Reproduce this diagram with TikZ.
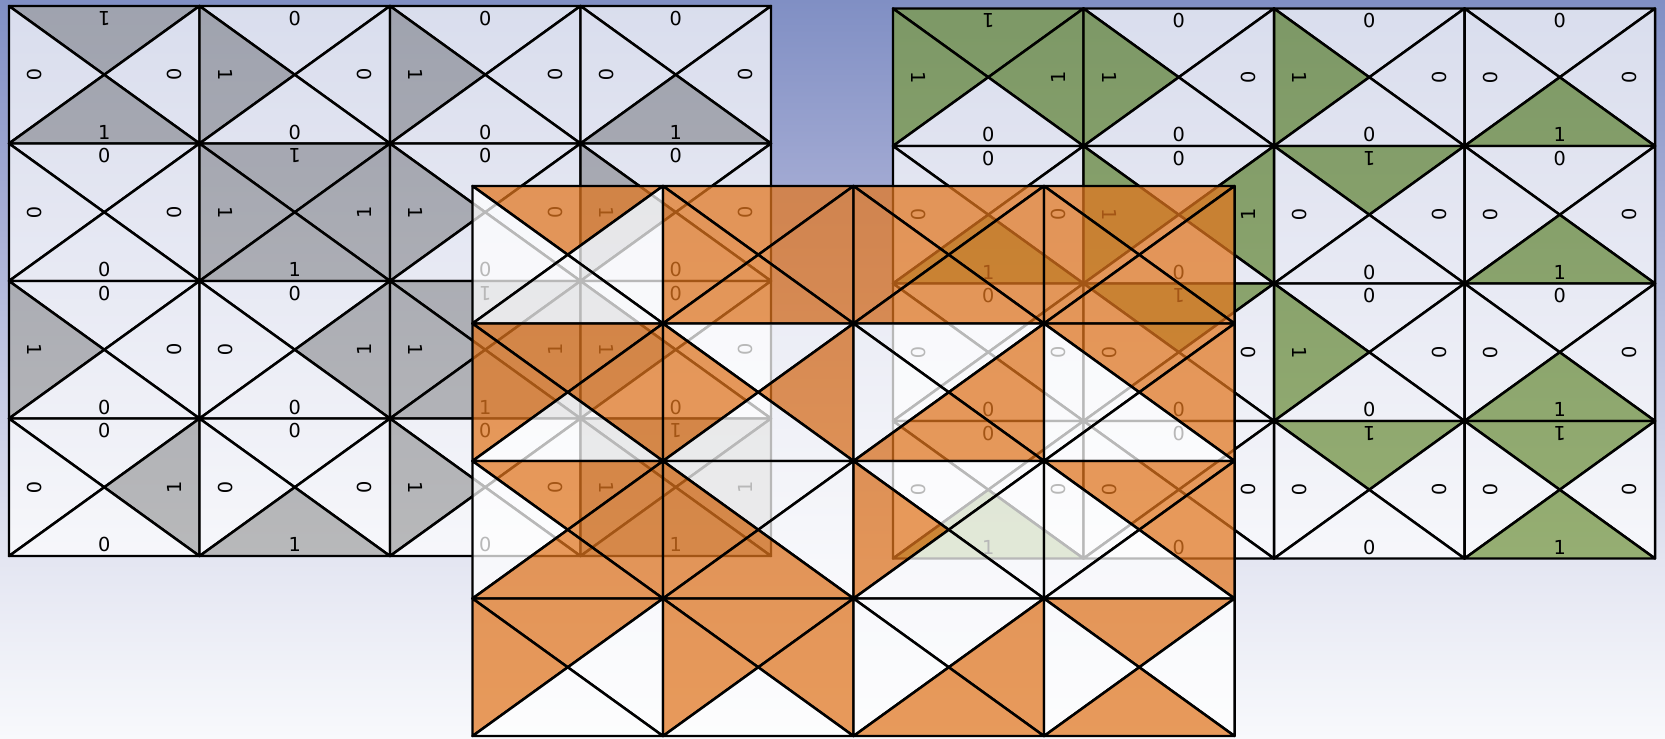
\documentclass[tikz,border=0pt]{standalone}
\usepackage{fontspec}
\setmainfont{DejaVu Sans}

\definecolor{tileGray}{RGB}{170,170,168}
\definecolor{tileGreen}{RGB}{124,156,72}
\definecolor{tileOrange}{RGB}{226,118,30}
\definecolor{skyTop}{RGB}{128,143,196}
\definecolor{skyHigh}{RGB}{160,168,210}
\definecolor{skyLow}{RGB}{228,230,242}
\definecolor{skyBottom}{RGB}{248,249,252}
% TikZ fits the 25bp--75bp band of a shading to the path
\pgfdeclareverticalshading{sky}{100bp}{color(0bp)=(skyBottom); color(25bp)=(skyBottom); color(37bp)=(skyLow); color(63bp)=(skyHigh); color(75bp)=(skyTop); color(100bp)=(skyTop)}

% one square cut into four triangles: name, x, y, T, L, R, B
\newcommand{\backcell}[7]{%
  \coordinate (#1a) at (#2,#3);
  \coordinate (#1b) at (#2+190.5,#3);
  \coordinate (#1c) at (#2+190.5,#3+137.5);
  \coordinate (#1d) at (#2,#3+137.5);
  \coordinate (#1m) at (#2+95.25,#3+68.75);
  \filldraw[edge,tile#4] (#1a) -- (#1b) -- (#1m) -- cycle;
  \filldraw[edge,tile#5] (#1a) -- (#1d) -- (#1m) -- cycle;
  \filldraw[edge,tile#6] (#1b) -- (#1c) -- (#1m) -- cycle;
  \filldraw[edge,tile#7] (#1d) -- (#1c) -- (#1m) -- cycle;
  \node[digit,rotate=180] (#1t) at (#2+95.25,#3+12.5) {#4};
  \node[digit,rotate=-90] (#1l) at (#2+26,#3+68.75) {#5};
  \node[digit,rotate=90] (#1r) at (#2+165,#3+68.75) {#6};
  \node[digit] (#1u) at (#2+95.25,#3+126) {#7};
}
% same square without digits
\newcommand{\frontcell}[7]{%
  \coordinate (#1a) at (#2,#3);
  \coordinate (#1b) at (#2+190.5,#3);
  \coordinate (#1c) at (#2+190.5,#3+137.5);
  \coordinate (#1d) at (#2,#3+137.5);
  \coordinate (#1m) at (#2+95.25,#3+68.75);
  \filldraw[edge,tile#4] (#1a) -- (#1b) -- (#1m) -- cycle;
  \filldraw[edge,tile#5] (#1a) -- (#1d) -- (#1m) -- cycle;
  \filldraw[edge,tile#6] (#1b) -- (#1c) -- (#1m) -- cycle;
  \filldraw[edge,tile#7] (#1d) -- (#1c) -- (#1m) -- cycle;
}

\begin{document}
\begin{tikzpicture}[x=0.02cm,y=-0.02cm,
  edge/.style={draw=black,line width=1.4pt,line join=round},
  tile0/.style={fill=white,fill opacity=0.7},
  digit/.style={inner sep=0pt,font=\fontsize{11}{13}\selectfont}]
\useasboundingbox (0,0) rectangle (1665,739);
\shade[shading=sky] (0,0) rectangle (1665,739);

% left grid
\begin{scope}[tile1/.style={fill=tileGray,fill opacity=0.75}]
\backcell{gA00}{9}{6}{1}{0}{0}{1}
\backcell{gA01}{199.5}{6}{0}{1}{0}{0}
\backcell{gA02}{390}{6}{0}{1}{0}{0}
\backcell{gA03}{580.5}{6}{0}{0}{0}{1}
\backcell{gA10}{9}{143.5}{0}{0}{0}{0}
\backcell{gA11}{199.5}{143.5}{1}{1}{1}{1}
\backcell{gA12}{390}{143.5}{0}{1}{0}{0}
\backcell{gA13}{580.5}{143.5}{0}{1}{0}{0}
\backcell{gA20}{9}{281}{0}{1}{0}{0}
\backcell{gA21}{199.5}{281}{0}{0}{1}{0}
\backcell{gA22}{390}{281}{1}{1}{1}{1}
\backcell{gA23}{580.5}{281}{0}{1}{0}{0}
\backcell{gA30}{9}{418.5}{0}{0}{1}{0}
\backcell{gA31}{199.5}{418.5}{0}{0}{0}{1}
\backcell{gA32}{390}{418.5}{0}{1}{0}{0}
\backcell{gA33}{580.5}{418.5}{1}{1}{1}{1}
\end{scope}

% right grid
\begin{scope}[tile1/.style={fill=tileGreen,fill opacity=0.75}]
\backcell{gB00}{893}{8.5}{1}{1}{1}{0}
\backcell{gB01}{1083.5}{8.5}{0}{1}{0}{0}
\backcell{gB02}{1274}{8.5}{0}{1}{0}{0}
\backcell{gB03}{1464.5}{8.5}{0}{0}{0}{1}
\backcell{gB10}{893}{146}{0}{0}{0}{1}
\backcell{gB11}{1083.5}{146}{0}{1}{1}{0}
\backcell{gB12}{1274}{146}{1}{0}{0}{0}
\backcell{gB13}{1464.5}{146}{0}{0}{0}{1}
\backcell{gB20}{893}{283.5}{0}{0}{0}{0}
\backcell{gB21}{1083.5}{283.5}{1}{0}{0}{0}
\backcell{gB22}{1274}{283.5}{0}{1}{0}{0}
\backcell{gB23}{1464.5}{283.5}{0}{0}{0}{1}
\backcell{gB30}{893}{421}{0}{0}{0}{1}
\backcell{gB31}{1083.5}{421}{0}{0}{0}{0}
\backcell{gB32}{1274}{421}{1}{0}{0}{0}
\backcell{gB33}{1464.5}{421}{1}{0}{0}{1}
\end{scope}

% front grid, see-through
\begin{scope}[tile1/.style={fill=tileOrange,fill opacity=0.72},
  tile0/.style={fill=white,fill opacity=0.72}]
\frontcell{gC00}{472.5}{186}{1}{0}{0}{0}
\frontcell{gC01}{663}{186}{1}{1}{1}{1}
\frontcell{gC02}{853.5}{186}{1}{1}{1}{1}
\frontcell{gC03}{1044}{186}{1}{1}{1}{1}
\frontcell{gC10}{472.5}{323.5}{1}{1}{1}{0}
\frontcell{gC11}{663}{323.5}{0}{1}{1}{0}
\frontcell{gC12}{853.5}{323.5}{0}{0}{1}{1}
\frontcell{gC13}{1044}{323.5}{1}{0}{1}{0}
\frontcell{gC20}{472.5}{461}{1}{0}{1}{1}
\frontcell{gC21}{663}{461}{0}{1}{0}{1}
\frontcell{gC22}{853.5}{461}{0}{1}{0}{0}
\frontcell{gC23}{1044}{461}{1}{0}{1}{0}
\frontcell{gC30}{472.5}{598.5}{1}{1}{0}{0}
\frontcell{gC31}{663}{598.5}{1}{1}{1}{0}
\frontcell{gC32}{853.5}{598.5}{0}{0}{1}{1}
\frontcell{gC33}{1044}{598.5}{1}{0}{0}{1}
\end{scope}
\end{tikzpicture}
\end{document}
